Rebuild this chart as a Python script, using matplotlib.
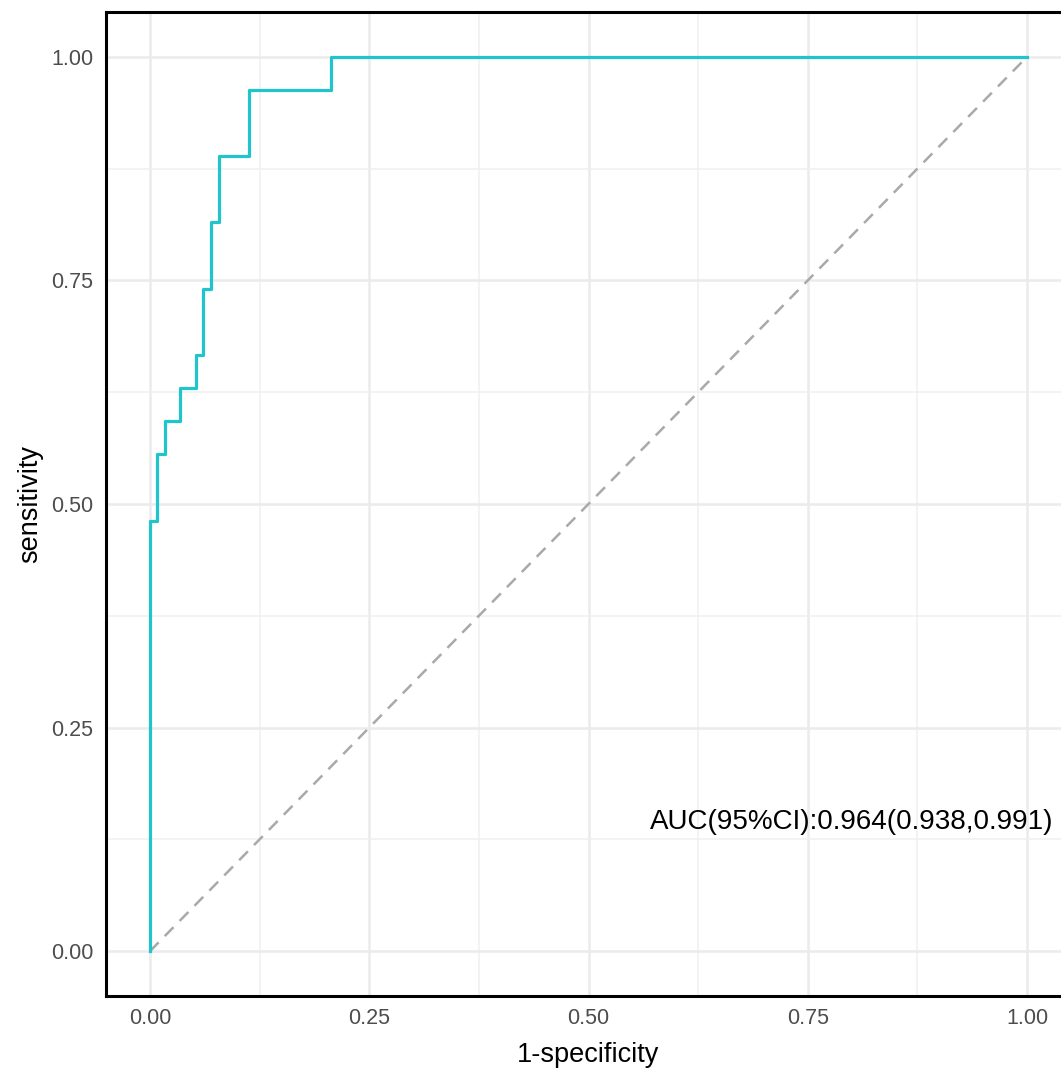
import matplotlib
matplotlib.use('Agg')
import matplotlib.pyplot as plt
import numpy as np

plt.rcParams['font.family'] = ['Liberation Sans', 'DejaVu Sans']

# ROC step points (1-specificity, sensitivity)
fpr = [0.0, 0.0, 0.0087, 0.0174, 0.0348, 0.0522, 0.0609, 0.0696, 0.0783, 0.1125, 0.207, 1.0]
tpr = [0.0, 13/27, 15/27, 16/27, 17/27, 18/27, 20/27, 22/27, 24/27, 26/27, 1.0, 1.0]
diag = [0.0, 1.0]
ticks = [0.0, 0.25, 0.5, 0.75, 1.0]
tick_labels = ['0.00', '0.25', '0.50', '0.75', '1.00']
minor_ticks = [0.125, 0.375, 0.625, 0.875]
auc_text = 'AUC(95%CI):0.964(0.938,0.991)'

fig = plt.figure(figsize=(10.61, 10.70), dpi=100)
# panel runs past the right edge of the figure, like the reference
ax = fig.add_axes([106 / 1061, 74 / 1070, 965 / 1061, 984 / 1070])

ax.plot(diag, diag, color='#A9A9A9', lw=1.8, dashes=(5, 3.5), zorder=2)
ax.plot(fpr, tpr, color='#20C4CC', lw=2.3, drawstyle='steps-post', zorder=3)

ax.set_xlim(-0.05, 1.05)
ax.set_ylim(-0.05, 1.05)
ax.set_xticks(ticks)
ax.set_xticklabels(tick_labels)
ax.set_yticks(ticks)
ax.set_yticklabels(tick_labels)
ax.set_xticks(minor_ticks, minor=True)
ax.set_yticks(minor_ticks, minor=True)
ax.grid(True, which='major', color='#EBEBEB', lw=1.8, zorder=0)
ax.grid(True, which='minor', color='#F0F0F0', lw=1.1, zorder=0)
ax.set_axisbelow(True)
ax.tick_params(which='both', length=0, labelsize=15.5, labelcolor='#4D4D4D', pad=9)

for side in ['left', 'bottom', 'top']:
    ax.spines[side].set_color('black')
    ax.spines[side].set_linewidth(2.2)
ax.spines['right'].set_visible(False)

ax.set_xlabel('1-specificity', fontsize=19.5, labelpad=9)
ax.set_ylabel('sensitivity', fontsize=19.5, labelpad=6)

ax.text(0.80, 0.145, auc_text, fontsize=20, ha='center', va='center', color='black')

fig.savefig('out.png', dpi=100)
